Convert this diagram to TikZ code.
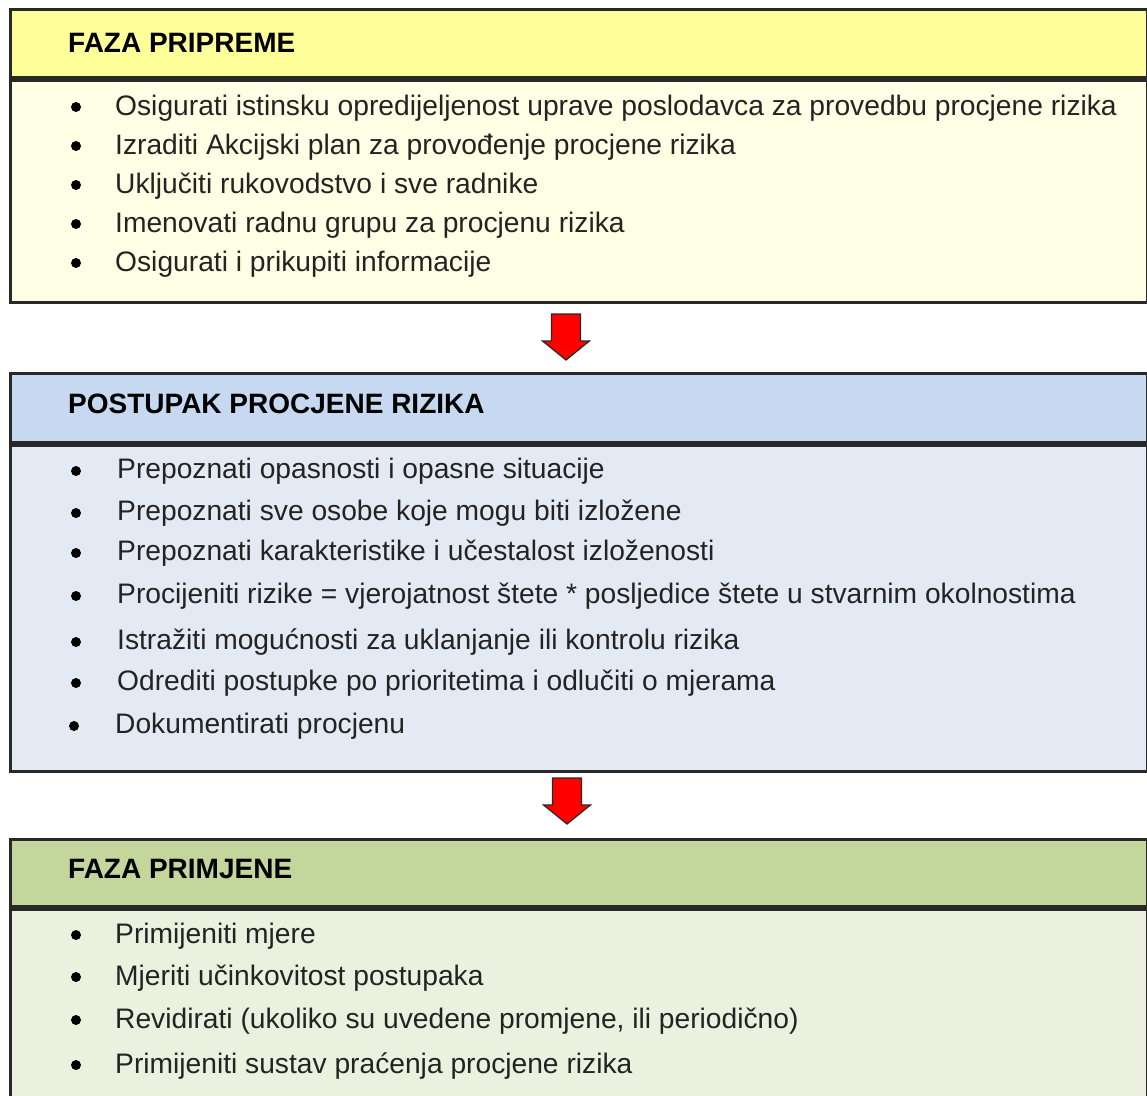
\documentclass[tikz,border=0pt]{standalone}
\usepackage{fontspec}
\setmainfont{Liberation Sans}
\usetikzlibrary{calc}

\definecolor{hdrYellow}{RGB}{255,255,153}
\definecolor{bodyYellow}{RGB}{255,255,229}
\definecolor{hdrBlue}{RGB}{198,217,241}
\definecolor{bodyBlue}{RGB}{228,234,244}
\definecolor{hdrGreen}{RGB}{195,214,155}
\definecolor{bodyGreen}{RGB}{235,241,222}
\definecolor{txtGray}{RGB}{35,35,35}
\definecolor{lineGray}{RGB}{40,40,40}

\tikzset{
  panel/.style={draw=lineGray, line width=3pt, anchor=north west, minimum width=1137pt, inner sep=0pt},
  title/.style={anchor=base west, inner sep=0pt, font=\fontsize{28}{32}\selectfont\bfseries, text=black},
  item/.style={anchor=base west, inner sep=0pt, font=\fontsize{28.2}{32}\selectfont, text=txtGray},
  blockarrow/.style={draw=lineGray, line width=1.2pt, fill=red, line join=miter}
}

\begin{document}
\begin{tikzpicture}[x=1pt, y=-1pt]

\useasboundingbox (0,0) rectangle (1147,1095);
\clip (0,0) rectangle (1147,1095);

% Draw the three panels: header strip and body
\node[panel, fill=hdrYellow, minimum height=68pt] (hdrA) at (9,8) {};
\node[panel, fill=bodyYellow, minimum height=222pt] (bodyA) at (hdrA.south west) {};

\node[panel, fill=hdrBlue, minimum height=69pt] (hdrB) at (9,372) {};
\node[panel, fill=bodyBlue, minimum height=326pt] (bodyB) at (hdrB.south west) {};

\node[panel, fill=hdrGreen, minimum height=67pt] (hdrC) at (9,838) {};
\node[panel, fill=bodyGreen, minimum height=230pt] (bodyC) at (hdrC.south west) {};

% Panel titles
\node[title] (titleA) at (68,52) {FAZA PRIPREME};
\node[title] (titleB) at (68,413) {POSTUPAK PROCJENE RIZIKA};
\node[title] (titleC) at (68,878) {FAZA PRIMJENE};

% Bullet lists
\foreach \y/\txt [count=\i] in {
  115/{Osigurati istinsku opredijeljenost uprave poslodavca za provedbu procjene rizika},
  154/{Izraditi Akcijski plan za provođenje procjene rizika},
  193/{Uključiti rukovodstvo i sve radnike},
  232/{Imenovati radnu grupu za procjenu rizika},
  271/{Osigurati i prikupiti informacije}} {
  \fill[black] (76,\y-8) circle (5pt);
  \node[item] (itemA\i) at (115,\y) {\txt};
}

\foreach \x/\y/\txt [count=\i] in {
  117/478/{Prepoznati opasnosti i opasne situacije},
  117/520/{Prepoznati sve osobe koje mogu biti izložene},
  117/560/{Prepoznati karakteristike i učestalost izloženosti},
  117/603/{Procijeniti rizike = vjerojatnost štete * posljedice štete u stvarnim okolnostima},
  117/649/{Istražiti mogućnosti za uklanjanje ili kontrolu rizika},
  117/690/{Odrediti postupke po prioritetima i odlučiti o mjerama},
  115/733/{Dokumentirati procjenu}} {
  \fill[black] (\x-41,\y-7) circle (5pt);
  \node[item] (itemB\i) at (\x,\y) {\txt};
}

\foreach \y/\txt [count=\i] in {
  943/{Primijeniti mjere},
  985/{Mjeriti učinkovitost postupaka},
  1028/{Revidirati (ukoliko su uvedene promjene, ili periodično)},
  1073/{Primijeniti sustav praćenja procjene rizika}} {
  \fill[black] (76,\y-8) circle (5pt);
  \node[item] (itemC\i) at (115,\y) {\txt};
}

% Red block arrows between the panels
\coordinate (arrA) at ($(bodyA.south west)+(557,10)$);
\coordinate (arrB) at ($(bodyB.south west)+(558,5)$);
\foreach \a in {arrA,arrB} {
  \draw[blockarrow] (\a) ++(-14.5,0) -- ++(29,0) -- ++(0,27) -- ++(9,0)
    -- ++(-23.5,19) -- ++(-23.5,-19) -- ++(9,0) -- cycle;
}

\end{tikzpicture}
\end{document}
